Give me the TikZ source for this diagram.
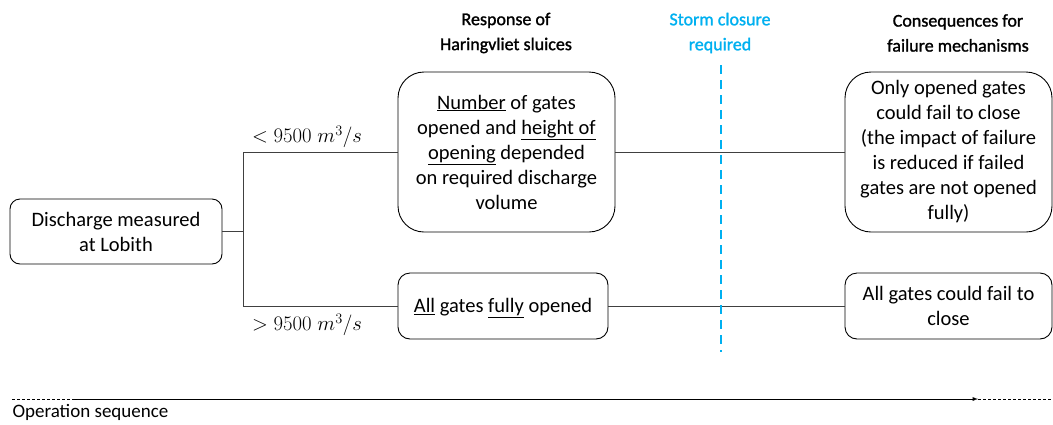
\documentclass[tikz,border=0pt]{standalone}
\usepackage{fontspec}
\setmainfont{Carlito}
\newfontface\headfont{Carlito}[FakeBold=1.3]
\definecolor{stormblue}{RGB}{0,176,240}
\tikzset{
  box/.style={draw, line width=0.9pt, align=center, inner sep=0pt},
  head/.style={align=center, font=\headfont\fontsize{18}{25}\selectfont},
  link/.style={line width=0.9pt, draw=black!75},
  rate/.style={font=\fontsize{21.5}{24}\selectfont}
}
\begin{document}
\begin{tikzpicture}[x=1pt, y=-1pt, font=\fontsize{20.5}{25}\selectfont]
  \useasboundingbox (0,0) rectangle (1053,424);
  % headers
  \node[head] (hresp) at (506,33) {Response of\\Haringvliet sluices};
  \node[head, text=stormblue] (hstorm) at (720,33) {Storm closure\\required};
  \node[head] (hcons) at (958,33) {Consequences for\\failure mechanisms};
  % boxes
  \node[box, rounded corners=10pt, minimum width=212pt, minimum height=65pt] (dis) at (116,231.5) {Discharge measured\\at Lobith};
  \node[box, rounded corners=26pt, minimum width=217pt, minimum height=160pt] (resp1) at (506.5,152) {\underline{Number} of gates\\opened and \underline{height of}\\\underline{opening} depended\\on required discharge\\volume};
  \node[box, rounded corners=12pt, minimum width=210pt, minimum height=66pt] (resp2) at (503,306) {\raisebox{-6.5pt}[0pt][0pt]{\underline{All} gates \underline{fully} opened}};
  \node[box, rounded corners=26pt, minimum width=207pt, minimum height=160pt] (cons1) at (948.5,152) {Only opened gates\\could fail to close\\(the impact of failure\\is reduced if failed\\gates are not opened\\fully)};
  \node[box, rounded corners=12pt, minimum width=207pt, minimum height=66pt] (cons2) at (948.5,306) {All gates could fail to\\close};
  % branching
  \coordinate (fork) at (243,231.5);
  \draw[link] (dis.east) -- (fork);
  \draw[link] (fork) |- (resp1.west);
  \draw[link] (fork) |- (resp2.west);
  \draw[link] (resp1.east) -- (cons1.west);
  \draw[link] (resp2.east) -- (cons2.west);
  \node[rate] (lo) at (307,137) {$<9500\;m^3/s$};
  \node[rate] (hi) at (307,325) {$>9500\;m^3/s$};
  % storm closure moment
  \coordinate (st) at (721,65);
  \coordinate (sb) at (721,352);
  \draw[stormblue, line width=2.2pt, dash pattern=on 9pt off 6pt] (st) -- (sb);
  % time axis
  \coordinate (t0) at (12,399);
  \coordinate (t1) at (75,399);
  \coordinate (t2) at (978,399);
  \coordinate (t3) at (1053,399);
  \draw[densely dashed, line width=0.7pt] (t0) -- (t1);
  \draw[-latex, line width=0.9pt] (t1) -- (t2);
  \draw[densely dashed, line width=0.7pt] (t2) -- (t3);
  \node[anchor=west, font=\fontsize{19}{22}\selectfont] (seq) at (9,412) {Operation sequence};
\end{tikzpicture}
\end{document}
